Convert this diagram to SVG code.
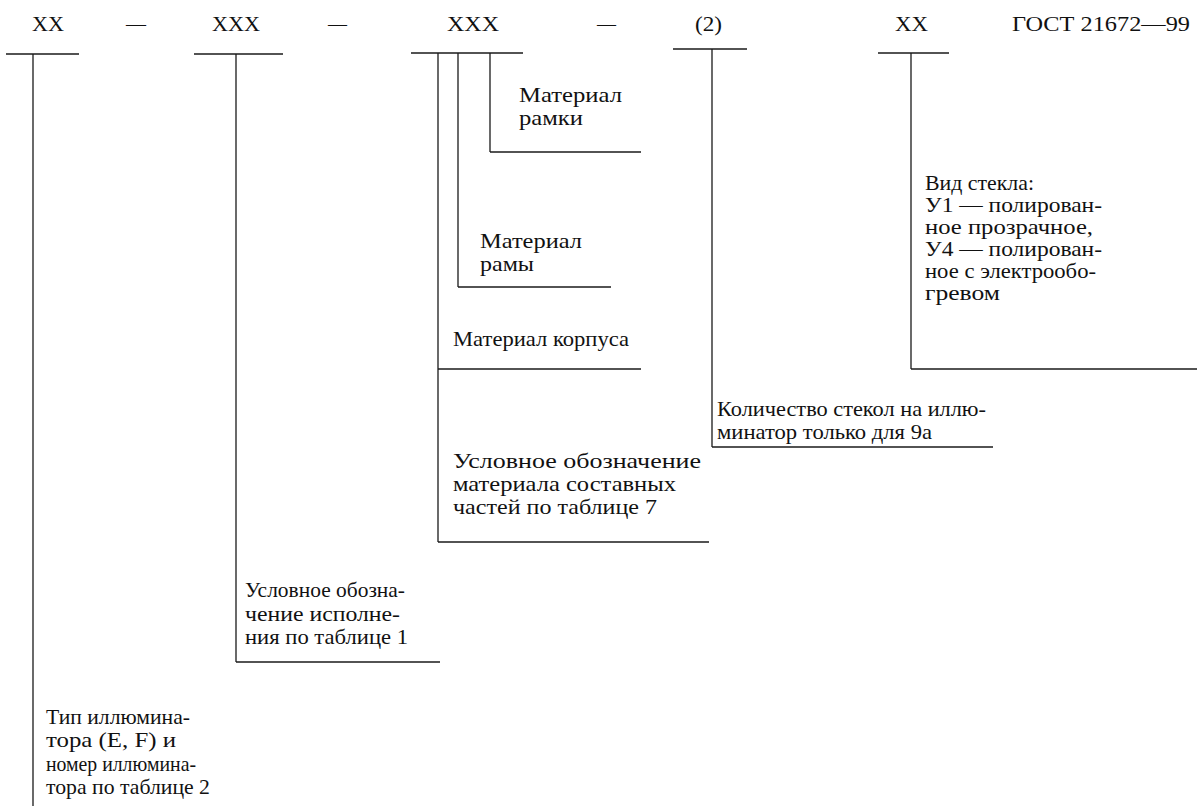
<svg xmlns="http://www.w3.org/2000/svg" width="1197" height="806" viewBox="0 0 1197 806">
<style>
text{font-family:"Liberation Serif","Times New Roman",serif;font-size:22px;fill:#111}
.top{font-size:22px}
.sm{font-size:21px}
.ln{stroke:#1a1a1a;stroke-width:1.3;fill:none}
</style>
<rect width="1197" height="806" fill="#fff"/>
<g id="codes">
<g id="code1"><text class="top" x="32" y="31" textLength="32" lengthAdjust="spacingAndGlyphs">XX</text></g>
<g id="dash1"><text class="top" x="126" y="31" textLength="20" lengthAdjust="spacingAndGlyphs">—</text></g>
<g id="code2"><text class="top" x="212" y="31" textLength="48" lengthAdjust="spacingAndGlyphs">XXX</text></g>
<g id="dash2"><text class="top" x="328" y="31" textLength="19" lengthAdjust="spacingAndGlyphs">—</text></g>
<g id="code3"><text class="top" x="447" y="31" textLength="52" lengthAdjust="spacingAndGlyphs">XXX</text></g>
<g id="dash3"><text class="top" x="597" y="31" textLength="19" lengthAdjust="spacingAndGlyphs">—</text></g>
<g id="code4"><text class="top" x="695" y="31" textLength="27" lengthAdjust="spacingAndGlyphs">(2)</text></g>
<g id="code5"><text class="top" x="895" y="31" textLength="33" lengthAdjust="spacingAndGlyphs">XX</text></g>
<g id="gost"><text class="top" x="1012" y="31" textLength="178" lengthAdjust="spacingAndGlyphs">ГОСТ 21672—99</text></g>
</g>
<g id="connectors" class="ln">
<line x1="6" y1="54" x2="79" y2="54"/>
<line x1="33" y1="54" x2="33" y2="806"/>
<line x1="194" y1="54" x2="283" y2="54"/>
<line x1="236" y1="54" x2="236" y2="662"/>
<line x1="236" y1="662" x2="440" y2="662"/>
<line x1="411" y1="53" x2="523" y2="53"/>
<line x1="438" y1="53" x2="438" y2="542"/>
<line x1="438" y1="542" x2="709" y2="542"/>
<line x1="438" y1="369" x2="641" y2="369"/>
<line x1="458" y1="53" x2="458" y2="287"/>
<line x1="458" y1="287" x2="611" y2="287"/>
<line x1="490" y1="53" x2="490" y2="152"/>
<line x1="490" y1="152" x2="641" y2="152"/>
<line x1="673" y1="49" x2="747" y2="49"/>
<line x1="712" y1="49" x2="712" y2="447"/>
<line x1="712" y1="447" x2="993" y2="447"/>
<line x1="878" y1="53" x2="949" y2="53"/>
<line x1="911" y1="53" x2="911" y2="369"/>
<line x1="911" y1="369" x2="1197" y2="369"/>
</g>
<g id="mat-ramki">
<text x="519" y="102" textLength="103" lengthAdjust="spacingAndGlyphs">Материал</text>
<text x="519" y="125" textLength="64" lengthAdjust="spacingAndGlyphs">рамки</text>
</g>
<g id="mat-ramy">
<text x="480" y="248" textLength="102" lengthAdjust="spacingAndGlyphs">Материал</text>
<text x="480" y="271" textLength="54" lengthAdjust="spacingAndGlyphs">рамы</text>
</g>
<g id="mat-korpusa">
<text x="453" y="346" textLength="176" lengthAdjust="spacingAndGlyphs">Материал корпуса</text>
</g>
<g id="vid-stekla" class="sm">
<text class="sm" x="925" y="190" textLength="109" lengthAdjust="spacingAndGlyphs">Вид стекла:</text>
<text class="sm" x="925" y="212" textLength="177" lengthAdjust="spacingAndGlyphs">У1 — полирован-</text>
<text class="sm" x="925" y="234" textLength="168" lengthAdjust="spacingAndGlyphs">ное прозрачное,</text>
<text class="sm" x="925" y="256" textLength="177" lengthAdjust="spacingAndGlyphs">У4 — полирован-</text>
<text class="sm" x="925" y="278" textLength="171" lengthAdjust="spacingAndGlyphs">ное с электрообо-</text>
<text class="sm" x="925" y="300" textLength="75" lengthAdjust="spacingAndGlyphs">гревом</text>
</g>
<g id="kolichestvo">
<text x="717" y="416" textLength="269" lengthAdjust="spacingAndGlyphs">Количество стекол на иллю-</text>
<text x="717" y="439" textLength="215" lengthAdjust="spacingAndGlyphs">минатор только для 9а</text>
</g>
<g id="material-chastey">
<text x="453" y="468" textLength="248" lengthAdjust="spacingAndGlyphs">Условное обозначение</text>
<text x="453" y="491" textLength="223" lengthAdjust="spacingAndGlyphs">материала составных</text>
<text x="453" y="514" textLength="204" lengthAdjust="spacingAndGlyphs">частей по таблице 7</text>
</g>
<g id="ispolnenie">
<text x="245" y="597" textLength="160" lengthAdjust="spacingAndGlyphs">Условное обозна-</text>
<text x="245" y="621" textLength="155" lengthAdjust="spacingAndGlyphs">чение исполне-</text>
<text x="245" y="644" textLength="163" lengthAdjust="spacingAndGlyphs">ния по таблице 1</text>
</g>
<g id="tip">
<text x="46" y="724" textLength="144" lengthAdjust="spacingAndGlyphs">Тип иллюмина-</text>
<text x="46" y="747" textLength="130" lengthAdjust="spacingAndGlyphs">тора (E, F) и</text>
<text x="46" y="771" textLength="150" lengthAdjust="spacingAndGlyphs">номер иллюмина-</text>
<text x="46" y="794" textLength="164" lengthAdjust="spacingAndGlyphs">тора по таблице 2</text>
</g>
</svg>
